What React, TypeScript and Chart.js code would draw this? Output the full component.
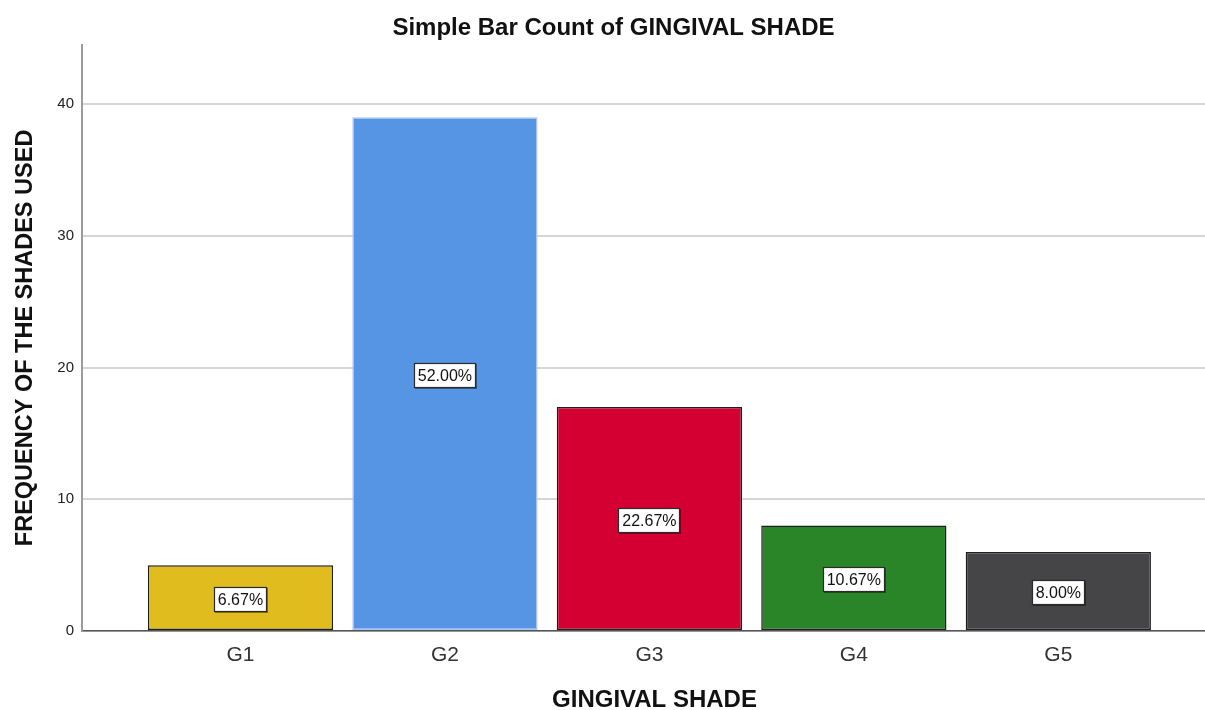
import React, { useEffect, useRef } from "react";
import { Chart, registerables } from "chart.js";

Chart.register(...registerables);

const categories = ["G1", "G2", "G3", "G4", "G5"];
const counts = [5, 39, 17, 8, 6];
const percentLabels = ["6.67%", "52.00%", "22.67%", "10.67%", "8.00%"];
const yTickValues = [0, 10, 20, 30, 40];
const barColors = ["#E0BC1F", "#5595E3", "#D50032", "#2A8529", "#454547"];
const barBorders = ["#1e1e1e", "#a6c6f0", "#1e1e1e", "#1e1e1e", "#1e1e1e"];

const chartTitle = "Simple Bar Count of GINGIVAL SHADE";
const xTitle = "GINGIVAL SHADE";
const yTitle = "FREQUENCY OF THE SHADES USED";

const FONT = "'Liberation Sans', Arial, sans-serif";

const labelPlugin = {
  id: "barLabels",
  afterDatasetsDraw(chart: any) {
    const ctx = chart.ctx;
    const meta = chart.getDatasetMeta(0);
    ctx.save();
    ctx.font = `16px ${FONT}`;
    ctx.textAlign = "center";
    ctx.textBaseline = "middle";
    meta.data.forEach((bar: any, i: number) => {
      const { x, y, base } = bar.getProps(["x", "y", "base"], true);
      const cy = (y + base) / 2 + 2;
      const text = percentLabels[i];
      const w = Math.round(ctx.measureText(text).width + 8);
      const h = 25;
      const left = Math.round(x - w / 2);
      const top = Math.round(cy - h / 2);
      ctx.fillStyle = "rgba(0,0,0,0.4)";
      ctx.fillRect(left + 1, top + 1, w, h);
      ctx.fillStyle = "#ffffff";
      ctx.fillRect(left, top, w, h);
      ctx.strokeStyle = "#2a2a2a";
      ctx.lineWidth = 1.2;
      ctx.strokeRect(left + 0.5, top + 0.5, w - 1, h - 1);
      ctx.fillStyle = "#111111";
      ctx.fillText(text, x, cy + 1);
    });
    ctx.restore();
  },
};

const CANVAS_W = 1227;
const CANVAS_H = 710;

export default function App() {
  const canvasRef = useRef<HTMLCanvasElement | null>(null);

  useEffect(() => {
    document.body.style.margin = "0";
    document.body.style.overflow = "hidden";
    const canvas = canvasRef.current;
    if (!canvas) return;
    const chart = new Chart(canvas, {
      type: "bar",
      data: {
        datasets: [
          {
            data: counts.map((v, i) => ({ x: i + 1, y: v })),
            backgroundColor: barColors,
            borderColor: barBorders,
            borderWidth: 1.5,
            borderSkipped: false,
            categoryPercentage: 1,
            barPercentage: 0.906,
          },
        ],
      },
      options: {
        responsive: false,
        animation: false,
        layout: { padding: 0 },
        plugins: {
          legend: { display: false },
          tooltip: { enabled: false },
          title: {
            display: true,
            text: chartTitle,
            color: "#111",
            font: { family: FONT, size: 24, weight: "bold", lineHeight: 1.2 },
            padding: { top: 14, bottom: 2 },
          },
        },
        scales: {
          x: {
            type: "linear",
            offset: false,
            min: 0.225,
            max: 5.825,
            afterBuildTicks: (s: any) => {
              s.ticks = categories.map((_, i) => ({ value: i + 1 }));
            },
            afterFit: (s: any) => {
              s.height = 79;
            },
            grid: { display: false, drawTicks: false },
            border: { display: true, color: "#555", width: 1.5 },
            ticks: {
              callback: (v: any) => categories[Number(v) - 1] ?? "",
              font: { family: FONT, size: 21 },
              color: "#333",
              padding: 12,
              autoSkip: false,
              maxRotation: 0,
            },
            title: {
              display: true,
              text: xTitle,
              color: "#111",
              font: { family: FONT, size: 24, weight: "bold", lineHeight: 0.8 },
              padding: { top: 0, bottom: 0 },
            },
          },
          y: {
            min: 0,
            max: 44.5,
            afterBuildTicks: (s: any) => {
              s.ticks = yTickValues.map((v) => ({ value: v }));
            },
            afterFit: (s: any) => {
              s.width = 82;
            },
            grid: { color: "#d6d6d6", lineWidth: 2, drawTicks: false },
            border: { display: true, color: "#9b9b9b", width: 2 },
            ticks: {
              font: { family: FONT, size: 15 },
              color: "#222",
              padding: 8,
            },
            title: {
              display: true,
              text: yTitle,
              color: "#111",
              font: { family: FONT, size: 23.5, weight: "bold", lineHeight: 1.2 },
              padding: { top: 11, bottom: 0 },
            },
          },
        },
      } as any,
      plugins: [labelPlugin],
    });
    return () => chart.destroy();
  }, []);

  return (
    <div style={{ width: 1205, height: CANVAS_H, overflow: "hidden", background: "#fff" }}>
      <canvas ref={canvasRef} width={CANVAS_W} height={CANVAS_H} style={{ display: "block" }} />
    </div>
  );
}
